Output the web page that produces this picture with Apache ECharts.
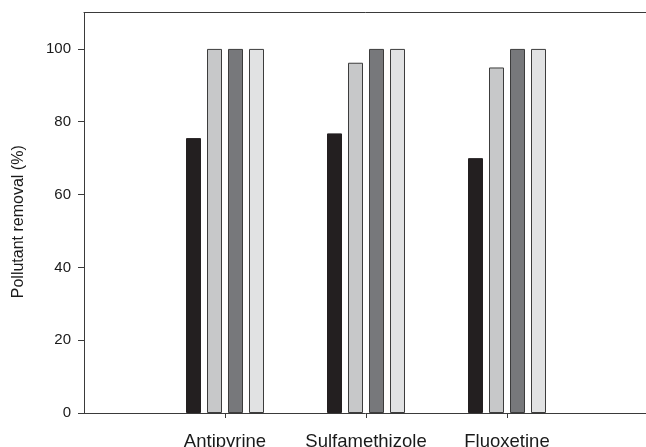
<!DOCTYPE html>
<html>
<head>
<meta charset="utf-8">
<script src="https://cdn.jsdelivr.net/npm/echarts@6/dist/echarts.min.js"></script>
<style>
  html, body { margin: 0; padding: 0; background: #fff; }
  #chart { width: 646px; height: 447px; }
</style>
</head>
<body>
<div id="chart"></div>
<script>
// Pharmaceutical compounds (padded with empty slots so the groups sit inside the axis)
const compounds = ['', 'Antipyrine', 'Sulfamethizole', 'Fluoxetine', ''];

// Removal (%) for the four treatments, per compound
const seriesA = [null, 75.5, 76.8, 70.0, null];
const seriesB = [null, 100, 96.2, 94.9, null];
const seriesC = [null, 100, 100, 100, null];
const seriesD = [null, 100, 100, 100, null];

const yTicks = [0, 20, 40, 60, 80, 100];

const fills = ['#231f20', '#c7c8c9', '#77787b', '#e1e2e3'];
const values = [seriesA, seriesB, seriesC, seriesD];

const chart = echarts.init(document.getElementById('chart'), null, { renderer: 'canvas' });

const axisColor = '#3a3a3a';
const font = 'Liberation Sans, Arial, sans-serif';

chart.setOption({
  animation: false,
  backgroundColor: '#ffffff',
  grid: { left: 84, width: 564, top: 12.5, bottom: 34, outerBoundsMode: 'none' },
  xAxis: [
    {
      type: 'category',
      data: compounds,
      boundaryGap: false,
      axisLine: { lineStyle: { color: axisColor, width: 1 } },
      axisTick: {
        length: 5,
        lineStyle: { color: axisColor },
        interval: (i, v) => v !== ''
      },
      axisLabel: {
        color: '#1a1a1a',
        fontSize: 18.5,
        fontFamily: font,
        margin: 19,
        interval: 0
      },
      splitLine: { show: false }
    },
    {
      type: 'category',
      data: compounds,
      boundaryGap: false,
      position: 'top',
      axisLine: { lineStyle: { color: axisColor, width: 1 } },
      axisTick: { show: false },
      axisLabel: { show: false },
      splitLine: { show: false }
    }
  ],
  yAxis: {
    type: 'value',
    min: 0,
    max: 110,
    interval: 20,
    name: 'Pollutant removal (%)',
    nameLocation: 'middle',
    nameGap: 57,
    nameTextStyle: { color: '#1a1a1a', fontSize: 16, fontFamily: font, padding: [0, 18, 0, 0] },
    axisLine: { show: true, lineStyle: { color: axisColor, width: 1 } },
    axisTick: {
      show: true,
      length: 6,
      lineStyle: { color: axisColor },
      customValues: yTicks
    },
    axisLabel: {
      color: '#1a1a1a',
      fontSize: 15,
      fontFamily: font,
      margin: 13,
      customValues: yTicks
    },
    splitLine: { show: false }
  },
  series: values.map((v, i) => ({
    type: 'bar',
    data: v,
    barWidth: 15,
    barGap: '40%',
    itemStyle: {
      color: fills[i],
      borderColor: i === 0 ? '#231f20' : '#3c3c3c',
      borderWidth: 1
    }
  }))
});
</script>
</body>
</html>
